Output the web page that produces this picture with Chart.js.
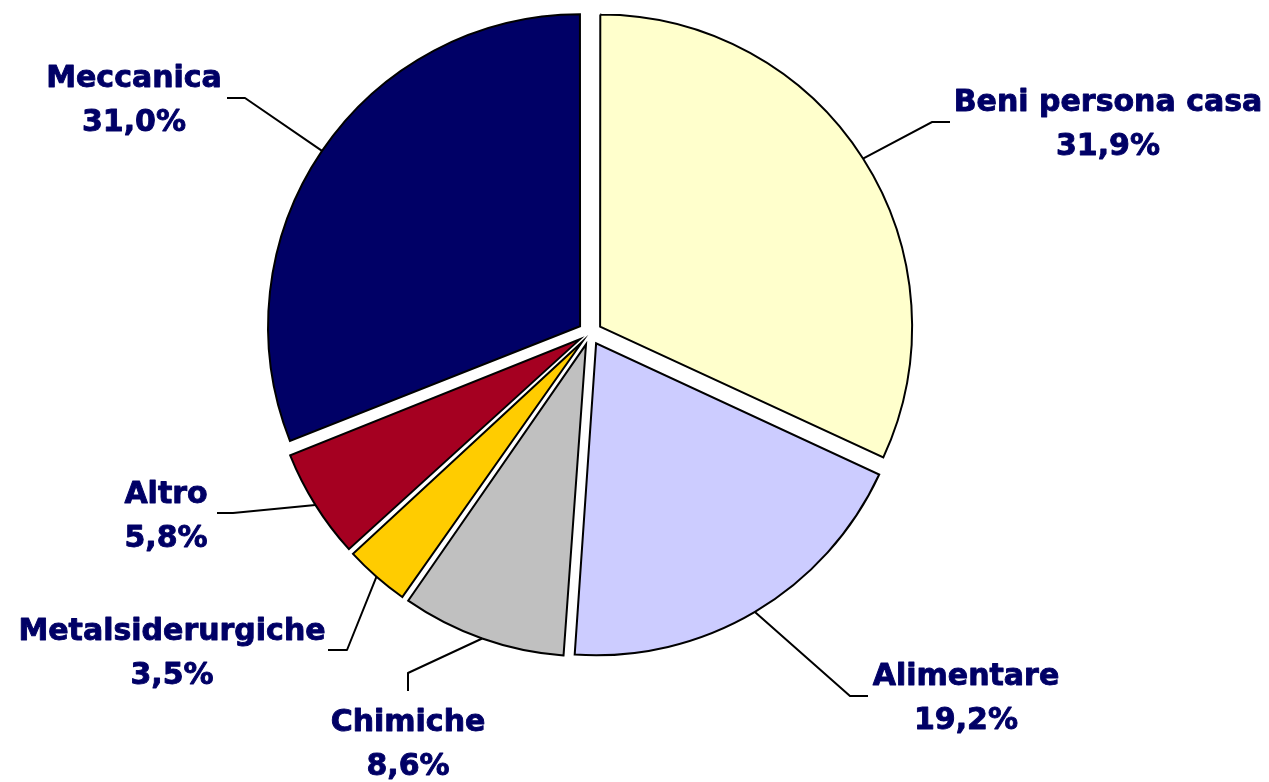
<!DOCTYPE html>
<html>
<head>
<meta charset="utf-8">
<script src="https://cdn.jsdelivr.net/npm/chart.js@4.4.0/dist/chart.umd.min.js"></script>
<style>
    body { margin: 0; background: #fff; }
    #pie { display: block; }
</style>
</head>
<body>
<canvas id="pie" width="1269" height="782"></canvas>
<script>
// Sector shares (%), clockwise from 12 o'clock
const sectors = ['Beni persona casa', 'Alimentare', 'Chimiche', 'Metalsiderurgiche', 'Altro', 'Meccanica'];
const shares = [31.9, 19.2, 8.6, 3.5, 5.8, 31.0];
const shareLabels = ['31,9%', '19,2%', '8,6%', '3,5%', '5,8%', '31,0%'];
const sliceColors = ['#FFFFCC', '#CCCCFF', '#C0C0C0', '#FFCC00', '#A50021', '#000066'];

// where each label sits (text centre) and the elbow of its leader line
const labelLayout = [
    { x: 1108, y: 100, elbow: [932, 122], end: [950, 122] },
    { x: 966, y: 674, elbow: [850, 696], end: [868, 696] },
    { x: 408, y: 720, elbow: [408, 673], end: [408, 691] },
    { x: 172, y: 629, elbow: [347, 650], end: [328, 650] },
    { x: 166, y: 492, elbow: [233, 513], end: [217, 513] },
    { x: 134, y: 76, elbow: [245, 98], end: [227, 98] }
];

const FONT_SIZE = 30;
const PIE_RADIUS = 312;

// Chart.js grows thin exploded slices a bit; pull them back to the same radius
const evenRadius = {
    id: 'evenRadius',
    afterDatasetUpdate(chart, args) {
        args.meta.data.forEach(arc => {
            const off = (arc.options.offset || 0) / 4;
            const circ = arc.endAngle - arc.startAngle;
            const fix = 1 - Math.sin(Math.min(Math.PI, circ));
            arc.outerRadius = PIE_RADIUS - off * fix;
        });
    }
};

// Leader lines + two-line labels
const labelPlugin = {
    id: 'sliceLabels',
    afterDatasetsDraw(chart) {
        const ctx = chart.ctx;
        const arcs = chart.getDatasetMeta(0).data;
        ctx.save();
        arcs.forEach((arc, i) => {
            const p = arc.getProps(['x', 'y', 'startAngle', 'endAngle'], true);
            const mid = (p.startAngle + p.endAngle) / 2;
            const off = (arc.options.offset || 0) / 4;
            const sx = p.x + Math.cos(mid) * (off + PIE_RADIUS);
            const sy = p.y + Math.sin(mid) * (off + PIE_RADIUS);
            const L = labelLayout[i];

            ctx.strokeStyle = '#000';
            ctx.lineWidth = 2;
            ctx.beginPath();
            ctx.moveTo(sx, sy);
            ctx.lineTo(L.elbow[0], L.elbow[1]);
            ctx.lineTo(L.end[0], L.end[1]);
            ctx.stroke();

            ctx.fillStyle = '#000066';
            ctx.strokeStyle = '#000066';
            ctx.lineWidth = 0.9;
            ctx.lineJoin = 'round';
            ctx.font = 'bold ' + FONT_SIZE + 'px "DejaVu Sans", Verdana, sans-serif';
            ctx.textAlign = 'center';
            ctx.textBaseline = 'alphabetic';
            const lift = FONT_SIZE * 0.36;
            ctx.fillText(sectors[i], L.x, L.y + lift);
            ctx.strokeText(sectors[i], L.x, L.y + lift);
            ctx.fillText(shareLabels[i], L.x, L.y + 44 + lift);
            ctx.strokeText(shareLabels[i], L.x, L.y + 44 + lift);
        });
        ctx.restore();
    }
};

new Chart(document.getElementById('pie').getContext('2d'), {
    type: 'pie',
    data: {
        labels: sectors,
        datasets: [{
            data: shares,
            backgroundColor: sliceColors,
            borderColor: '#000',
            borderWidth: 2,
            borderJoinStyle: 'miter',
            offset: 48
        }]
    },
    options: {
        responsive: false,
        animation: false,
        radius: PIE_RADIUS,
        layout: { padding: { top: 0, bottom: 116, left: 0, right: 89 } },
        plugins: {
            legend: { display: false },
            tooltip: { enabled: false }
        }
    },
    plugins: [evenRadius, labelPlugin]
});
</script>
</body>
</html>
